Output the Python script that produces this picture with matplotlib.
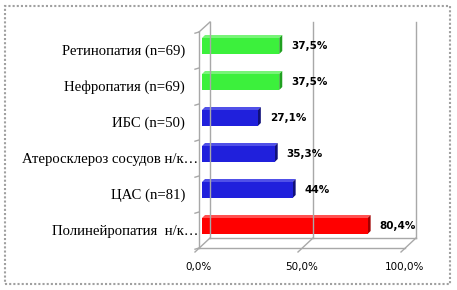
import numpy as np
import matplotlib
matplotlib.use('Agg')
import matplotlib.pyplot as plt
from matplotlib.patches import Polygon, Rectangle

categories = ['Полинейропатия  н/к…', 'ЦАС (n=81)', 'Атеросклероз сосудов н/к…',
              'ИБС (n=50)', 'Нефропатия (n=69)', 'Ретинопатия (n=69)']
values = [80.4, 44.0, 35.3, 27.1, 37.5, 37.5]
value_labels = ['80,4%', '44%', '35,3%', '27,1%', '37,5%', '37,5%']
groups = ['red', 'blue', 'blue', 'blue', 'green', 'green']
xticks = [0, 50, 100]
xtick_labels = ['0,0%', '50,0%', '100,0%']

palette = {
    'red': ('#ff0000', '#ff5050', '#a00000'),
    'blue': ('#2020dc', '#5050e8', '#10107a'),
    'green': ('#3cf03c', '#78f478', '#20a020'),
}

W, H = 457, 290
fig = plt.figure(figsize=(W / 100, H / 100), dpi=100)
x0, x1 = 199, 405
y_bot, y_top = 248, 32
ax = fig.add_axes([x0 / W, (H - y_bot) / H, (x1 - x0) / W, (y_bot - y_top) / H])
n = len(categories)
ax.set_xlim(0, 100)
ax.set_ylim(-0.5, n - 0.5)
ax.axis('off')

# pixel -> data unit conversions
ppx = (x1 - x0) / 100.0
ppy = (y_bot - y_top) / n


def px(dx, dy):
    return dx / ppx, dy / ppy


grid_c = '#a8a8a8'
bx, by = px(11, 10)
kw = dict(color=grid_c, lw=1, clip_on=False)

# back wall gridlines
for t in xticks:
    ax.plot([t + bx, t + bx], [-0.5 + by, n - 0.5 + by], **kw)
# left wall front edge and top diagonal
ax.plot([0, 0], [-0.5, n - 0.5], **kw)
ax.plot([0, bx], [n - 0.5, n - 0.5 + by], **kw)
# floor
ax.plot([0, 100], [-0.5, -0.5], **kw)
ax.plot([bx, 100 + bx], [-0.5 + by, -0.5 + by], **kw)
tx, ty = px(4, 4)
for t in xticks:
    ax.plot([t - tx, t + bx], [-0.5 - ty, -0.5 + by], **kw)
# y ticks on the wall front edge
for k in range(n + 1):
    ax.plot([0, -tx], [k - 0.5, k - 0.5 - ty * 0.3], **kw)

# bars with a little depth
ox, oy = px(3, 4)
dx, dy = px(3, 3)
hh = 16 / ppy
for i, (v, g) in enumerate(zip(values, groups)):
    face, top, side = palette[g]
    xa, xb = ox, v + ox
    ya, yb = i + oy - hh / 2, i + oy + hh / 2
    ax.add_patch(Polygon([[xa, yb], [xb, yb], [xb + dx, yb + dy], [xa + dx, yb + dy]],
                         closed=True, fc=top, ec='none', clip_on=False))
    ax.add_patch(Polygon([[xb, ya], [xb + dx, ya + dy], [xb + dx, yb + dy], [xb, yb]],
                         closed=True, fc=side, ec='none', clip_on=False))
    ax.add_patch(Rectangle((xa, ya), xb - xa, yb - ya, fc=face, ec='none', clip_on=False))
    ax.annotate(value_labels[i], (xb + dx, i + oy), xytext=(9, 0), textcoords='offset pixels',
                ha='left', va='center', fontsize=7.5, fontweight='bold',
                family='DejaVu Sans', color='black', annotation_clip=False)

# category labels (truncated ones run up to the axis)
for i, c in enumerate(categories):
    off = -1 if c.endswith('…') else -14
    ax.annotate(c, (0, i), xytext=(off, -1), textcoords='offset pixels', ha='right',
                va='center', fontsize=10.6, family='Liberation Serif', annotation_clip=False)

# x tick labels
for t, lab in zip(xticks, xtick_labels):
    ax.annotate(lab, (t, -0.5), xytext=(0, -19), textcoords='offset pixels', ha='center',
                va='center', fontsize=7.5, family='DejaVu Sans', annotation_clip=False)

# dotted outer frame
fig.patches.append(Rectangle((5 / W, 6 / H), 445 / W, 278 / H, transform=fig.transFigure,
                             fill=False, ec='#a0a0a0', lw=1.5, ls=(0, (1, 1))))

fig.savefig('out.png', dpi=100)
